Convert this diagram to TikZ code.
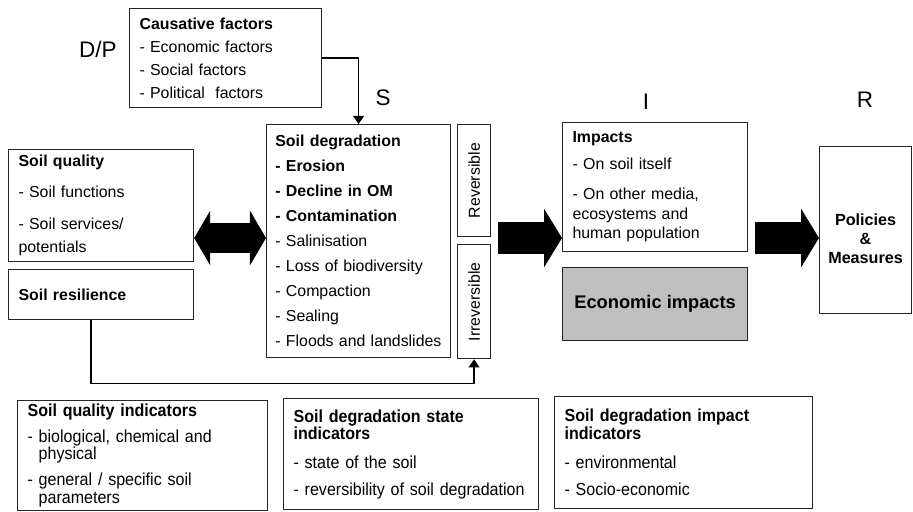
\documentclass[tikz,border=0pt]{standalone}
\usepackage{fontspec}
\setmainfont{Liberation Sans}
\newfontfamily\narrowfont[FakeStretch=0.92]{Liberation Sans}
\usepackage{graphicx}
\usetikzlibrary{arrows.meta, positioning, calc}

\begin{document}
\begin{tikzpicture}[
        x=0.025cm, y=-0.025cm,
        box/.style = {rectangle, draw=black!85, line width=0.8pt, align=left, inner xsep=0.25cm, inner ysep=1pt, anchor=north west, font=\fontsize{11.3}{16.4}\selectfont},
        degbox/.style = {box, inner xsep=0.22cm, font=\fontsize{11.3}{17.8}\selectfont},
        impbox/.style = {box, font=\fontsize{11.3}{13.9}\selectfont},
        sidebox/.style = {rectangle, draw=black!85, line width=0.8pt, inner sep=0pt, minimum width=0.825cm, font=\fontsize{11.3}{13}\selectfont},
        indbox/.style = {box, font=\narrowfont\fontsize{12.4}{12.5}\selectfont},
        letter/.style = {font=\fontsize{16}{18}\selectfont},
        arrow/.style = {line width=0.85pt, -{Triangle[length=0.2cm, width=0.27cm]}},
        fat/.style = {line width=0.8cm, -{Triangle[length=0.45cm, width=1.45cm]}},
        fatboth/.style = {line width=0.75cm, {Triangle[length=0.4cm, width=1.35cm]}-{Triangle[length=0.4cm, width=1.35cm]}}
    ]

    \useasboundingbox (0,0) rectangle (913,512);
    \fill[white] (0,0) rectangle (913,512);

    % --- DPSIR LETTERS ---
    \node[letter] (dp) at (98,49) {D/P};
    \node[letter] (s) at (383,98) {S};
    \node[letter] (i) at (646,102) {I};
    \node[letter] (r) at (865,100) {R};

    % --- BOXES ---
    \node[box, text width=4.3cm, minimum height=2.475cm] (causes) at (129,8) {\textbf{Causative factors}\\ - Economic factors\\ - Social factors\\ - Political~ factors};

    \node[box, text width=4.125cm, minimum height=2.8cm] (quality) at (8,149) {\textbf{Soil quality}\\[5.6pt] - Soil functions\\[6.4pt] - Soil services/\\ potentials};
    \node[box, text width=4.125cm, minimum height=1.25cm, below=0.175cm of quality] (resilience) {\textbf{Soil resilience}};

    \node[degbox, text width=4.16cm, minimum height=5.825cm] (degradation) at (266,124) {\textbf{Soil degradation}\\ \textbf{- Erosion}\\ \textbf{- Decline in OM}\\ \textbf{- Contamination}\\ - Salinisation\\ - Loss of biodiversity\\ - Compaction\\ - Sealing\\ - Floods and landslides};

    \node[sidebox, minimum height=2.8cm, anchor=north west] (reversible) at (457,124) {\rotatebox{90}{Reversible}};
    \node[sidebox, minimum height=2.85cm, below=0.175cm of reversible] (irreversible) {\rotatebox{90}{Irreversible}};

    \node[impbox, text width=4.125cm, minimum height=3.225cm] (impacts) at (562,122) {\textbf{Impacts}\\[5.3pt] - On soil itself\\[7.4pt] - On other media,\\ ecosystems and\\ human population};
    \node[box, minimum width=4.625cm, minimum height=1.825cm, fill=black!25, align=center, font=\bfseries\fontsize{13}{15}\selectfont, below=0.375cm of impacts] (economic) {Economic impacts};

    \node[box, minimum width=2.3cm, minimum height=4.175cm] (policies) at (819,146) {};
    \node[align=center, font=\bfseries\fontsize{11.5}{13.5}\selectfont] (policytext) at ($(policies.center)+(0,8.5)$) {Policies\\ \&\\ Measures};

    % indicator boxes at the bottom
    \node[indbox, text width=5.75cm, minimum height=2.75cm] (qualind) at (17,400) {\textbf{Soil quality indicators}\\[5.3pt] - biological, chemical and\\ \hphantom{- }physical\\[6pt] - general / specific soil\\ \hphantom{- }parameters};
    \node[indbox, text width=5.875cm, minimum height=2.775cm] (stateind) at (283,398) {\textbf{Soil degradation state}\\ \textbf{indicators}\\[8pt] - state of the soil\\[6.5pt] - reversibility of soil degradation};
    \node[indbox, text width=5.95cm, minimum height=2.8cm] (impind) at (554,396) {\textbf{Soil degradation impact}\\ \textbf{indicators}\\[8pt] - environmental\\[7pt] - Socio-economic};

    % --- CONNECTORS ---
    \draw[arrow] (causes.east) -| (degradation.north);
    \draw[arrow] ([xshift=-0.25cm]resilience.south) |- ([yshift=-0.6cm]irreversible.south) -- (irreversible.south);

    % big black arrows
    \coordinate (midrow) at (0,238);
    \draw[fatboth] (quality.east |- midrow) -- (degradation.west |- midrow);
    \draw[fat] ($(reversible.east |- midrow)+(7,0)$) -- (impacts.west |- midrow);
    \draw[fat] ($(impacts.east |- midrow)+(7,0)$) -- (policies.west |- midrow);

\end{tikzpicture}
\end{document}
